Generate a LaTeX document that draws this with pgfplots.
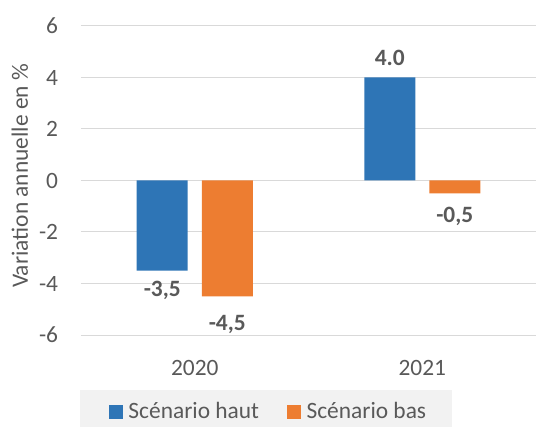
\documentclass[border=0pt]{standalone}
\usepackage{fontspec}
\setmainfont{Carlito}
\usepackage{pgfplots}
\usepackage{pgfplotstable}
\pgfplotsset{compat=1.18}

\definecolor{haut}{HTML}{2E75B6}
\definecolor{bas}{HTML}{ED7D31}
\definecolor{txt}{HTML}{595959}
\definecolor{gridc}{HTML}{D9D9D9}
\definecolor{legbg}{HTML}{F2F2F2}

% x = categorie (0 = 2020, 1 = 2021), dy = decalage de l'etiquette en bp
\pgfplotstableread{
x y dy lab
0 -3.5 -26.3 {-3,5}
1 4.0 12.3 {4.0}
}\tabhaut
\pgfplotstableread{
x y dy lab
0 -4.5 -33.8 {-4,5}
1 -0.5 -28.8 {-0,5}
}\tabbas

\newcommand\bigfont{\fontsize{23.4bp}{28bp}\selectfont}

\begin{document}
\begin{tikzpicture}[font=\bigfont]
\path[use as bounding box] (-81bp,-92bp) rectangle (455bp,335bp);
\fill[legbg] (-1bp,-55bp) rectangle (371bp,-92bp);
\begin{axis}[
    at={(0,0)}, anchor=south west,
    scale only axis, width=455bp, height=309bp,
    ymin=-6, ymax=6, ytick={-6,-4,...,6},
    xmin=-0.5, xmax=1.5, xtick={0,1}, xticklabels={2020,2021},
    axis line style={draw=none},
    major tick length=0pt,
    ymajorgrids, grid style={gridc, line width=1bp},
    ybar=14bp, bar width=51bp,
    tick label style={text=txt},
    /pgf/number format/assume math mode=true,
    yticklabel style={anchor=east, inner sep=0pt, xshift=-22.7bp},
    xticklabel style={anchor=base, inner sep=0pt, yshift=-40bp},
    ylabel={Variation annuelle en \%},
    every axis y label/.style={at={(axis description cs:-0.1165,0.5146)},
        rotate=90, anchor=base, inner sep=0pt, text=txt},
    legend columns=2,
    legend image code/.code={\fill[#1] (0bp,0bp) rectangle (14bp,14bp);},
    legend style={at={(0.0615,-0.2751)}, anchor=south west,
        draw=none, fill=none, inner sep=0pt, outer sep=0pt,
        nodes={inner sep=0pt, anchor=base west, text=txt},
        /tikz/every even column/.append style={column sep=28bp},
        /tikz/every odd column/.append style={column sep=5.5bp}},
]
\addplot[fill=haut, draw=none,
    nodes near coords, point meta=explicit symbolic,
    visualization depends on={\thisrow{dy}\as\labdy},
    every node near coord/.append style={anchor=base, yshift=\labdy bp,
        inner sep=0pt, font=\bigfont\bfseries, text=txt}]
    table[x=x, y=y, meta=lab]{\tabhaut};
\addlegendentry{Scénario haut}
\addplot[fill=bas, draw=none,
    nodes near coords, point meta=explicit symbolic,
    visualization depends on={\thisrow{dy}\as\labdy},
    every node near coord/.append style={anchor=base, yshift=\labdy bp,
        inner sep=0pt, font=\bigfont\bfseries, text=txt}]
    table[x=x, y=y, meta=lab]{\tabbas};
\addlegendentry{Scénario bas}
\end{axis}
\end{tikzpicture}
\end{document}
